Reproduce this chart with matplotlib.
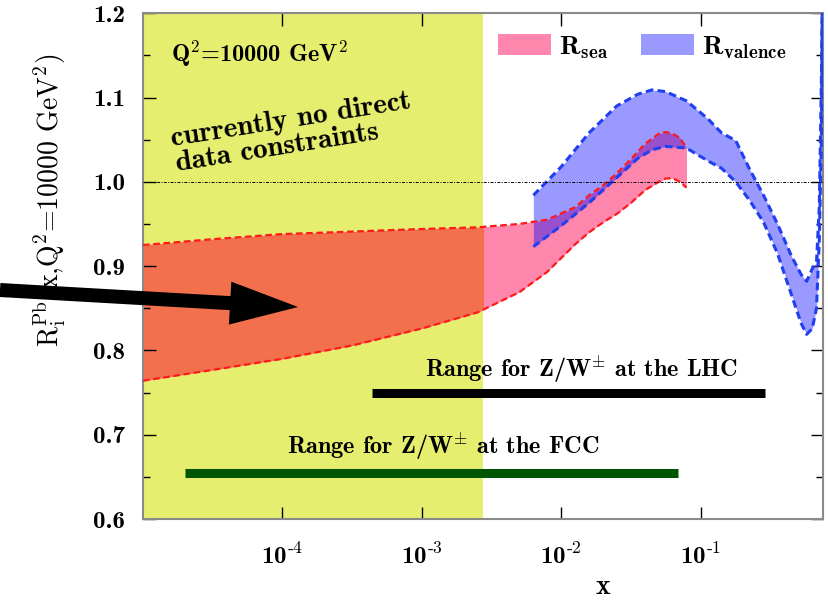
import numpy as np
import matplotlib
matplotlib.use("Agg")
import matplotlib.pyplot as plt
from matplotlib.patches import Patch, FancyArrow, Rectangle
from matplotlib.ticker import FuncFormatter, NullLocator

plt.rcParams['font.family'] = ['cmb10', 'DejaVu Serif']
plt.rcParams['mathtext.fontset'] = 'cm'
plt.rcParams['mathtext.default'] = 'bf'
plt.rcParams['axes.unicode_minus'] = False

# sea band (x, lower, upper)
sea_x = [1e-5, 3.2e-5, 1e-4, 3.2e-4, 1e-3, 2.5e-3, 5e-3, 7.9e-3, 1.26e-2, 1.58e-2,
         2.0e-2, 2.5e-2, 3.16e-2, 3.98e-2, 5.0e-2, 5.6e-2, 6.3e-2, 7.1e-2, 7.9e-2]
sea_lo = [0.764, 0.777, 0.790, 0.806, 0.826, 0.845, 0.869, 0.893, 0.926, 0.940,
          0.952, 0.962, 0.975, 0.990, 1.000, 1.004, 1.004, 1.000, 0.993]
sea_hi = [0.925, 0.932, 0.938, 0.941, 0.944, 0.946, 0.950, 0.955, 0.970, 0.984,
          0.996, 1.010, 1.027, 1.045, 1.057, 1.059, 1.057, 1.052, 1.040]

# valence band
val_x = [6.3e-3, 1e-2, 1.58e-2, 2.5e-2, 3.55e-2, 4.47e-2, 5.6e-2, 7.9e-2, 0.112, 0.141,
         0.178, 0.224, 0.282, 0.355, 0.447, 0.525, 0.575, 0.631, 0.676, 0.708, 0.733, 0.75]
val_lo = [0.923, 0.948, 0.975, 1.005, 1.028, 1.038, 1.042, 1.040, 1.025, 1.016,
          1.000, 0.978, 0.952, 0.915, 0.866, 0.832, 0.819, 0.826, 0.850, 0.930, 1.050, 1.300]
val_hi = [0.984, 1.018, 1.058, 1.090, 1.104, 1.109, 1.107, 1.096, 1.075, 1.058,
          1.049, 1.015, 0.984, 0.950, 0.912, 0.890, 0.882, 0.897, 0.905, 0.970, 1.120, 1.300]

no_data_region = [1e-5, 2.75e-3]
lhc_range = [4.4e-4, 0.288]
lhc_y = 0.750
fcc_range = [2.0e-5, 0.0684]
fcc_y = 0.654

fig = plt.figure(figsize=(8.29, 6), dpi=100)
ax = fig.add_axes([0.1725, 0.135, 0.82, 0.843])

ax.set_xscale('log')
ax.set_xlim(1e-5, 0.75)
ax.set_ylim(0.6, 1.2)

ax.axvspan(no_data_region[0], no_data_region[1], color='#e5ee6f', lw=0, zorder=0)

ax.fill_between(sea_x, sea_lo, sea_hi, color='#ff86ad', lw=0, zorder=1)
orange = ax.fill_between(sea_x, sea_lo, sea_hi, color='#f2714c', lw=0, zorder=1.1)
clip = Rectangle((no_data_region[0], 0), no_data_region[1] - no_data_region[0], 2,
                 transform=ax.transData)
orange.set_clip_path(clip)
ax.fill_between(val_x, val_lo, val_hi, color='#0000ff', alpha=0.4, lw=0, zorder=2)

for y in (sea_lo, sea_hi):
    ax.plot(sea_x, y, color='#ff1a1a', lw=1.6, dashes=(3, 1.6), zorder=3)
for y in (val_lo, val_hi):
    ax.plot(val_x, y, color='#2040f0', lw=2.2, dashes=(2.5, 1.4), zorder=3)

ax.axhline(1.0, color='black', lw=0.7, ls=(0, (3, 1.5, 1, 1.5)), zorder=4)

ax.plot(lhc_range, [lhc_y, lhc_y], color='black', lw=6.5, solid_capstyle='butt', zorder=5)
ax.plot(fcc_range, [fcc_y, fcc_y], color='#005500', lw=6.5, solid_capstyle='butt', zorder=5)
ax.text(1.4e-2, 0.769, r'Range for Z/W$^{\pm}$ at the LHC', fontsize=17.5,
        ha='center', va='baseline', zorder=6)
ax.text(1.41e-3, 0.677, r'Range for Z/W$^{\pm}$ at the FCC', fontsize=17.5,
        ha='center', va='baseline', zorder=6)

ax.text(0.041, 0.903, r'Q$^2$=10000 GeV$^2$', transform=ax.transAxes, fontsize=17.5,
        ha='left', va='baseline')
ax.text(0.0426, 0.7366, 'currently no direct', transform=ax.transAxes, fontsize=21,
        rotation=9, rotation_mode='anchor', ha='left', va='baseline')
ax.text(0.050, 0.688, 'data constraints', transform=ax.transAxes, fontsize=21,
        rotation=9, rotation_mode='anchor', ha='left', va='baseline')

handles = [Patch(color='#ff86ad', lw=0), Patch(color='#9999ff', lw=0)]
ax.legend(handles, [r'R$_{sea}$', r'R$_{valence}$'], loc='upper left',
          bbox_to_anchor=(0.495, 0.997), ncol=2, frameon=False, fontsize=19.5,
          handlelength=1.95, handleheight=0.85, columnspacing=1.2, handletextpad=0.3,
          borderpad=0.2)

ax.set_yticks(np.arange(0.6, 1.21, 0.1))
ax.set_yticks(np.arange(0.6, 1.21, 0.05), minor=True)
ax.set_xticks([1e-4, 1e-3, 1e-2, 1e-1])
ax.xaxis.set_minor_locator(NullLocator())
ax.xaxis.set_major_formatter(FuncFormatter(
    lambda v, p: r'10$^{\text{-%d}}$' % round(-np.log10(v))))
ax.tick_params(which='both', direction='in', top=True, right=True, labelsize=18)
ax.tick_params(which='major', length=9, width=1)
ax.tick_params(which='minor', length=5, width=1)
ax.tick_params(axis='y', pad=13)
ax.tick_params(axis='x', pad=17)
for s in ax.spines.values():
    s.set_color('#8a8a8a')
    s.set_linewidth(1.5)

ax.set_xlabel('x', fontsize=20, va='bottom')
ax.xaxis.set_label_coords(0.676, -0.16)
ax.set_ylabel(r'R$_{\mathrm{i}}^{\mathrm{Pb}}$(x,Q$^{\mathrm{2}}$=10000 GeV$^{\mathrm{2}}$)',
              fontsize=20, fontfamily='cmr10')
ax.yaxis.set_label_coords(-0.11, 0.63)

arrow = FancyArrow(0, 3.10, 2.98, -0.17, width=0.14, head_width=0.43, head_length=0.68,
                   length_includes_head=True, color='black', lw=0,
                   transform=fig.dpi_scale_trans, zorder=10)
fig.add_artist(arrow)

fig.savefig('out.png', dpi=100)
